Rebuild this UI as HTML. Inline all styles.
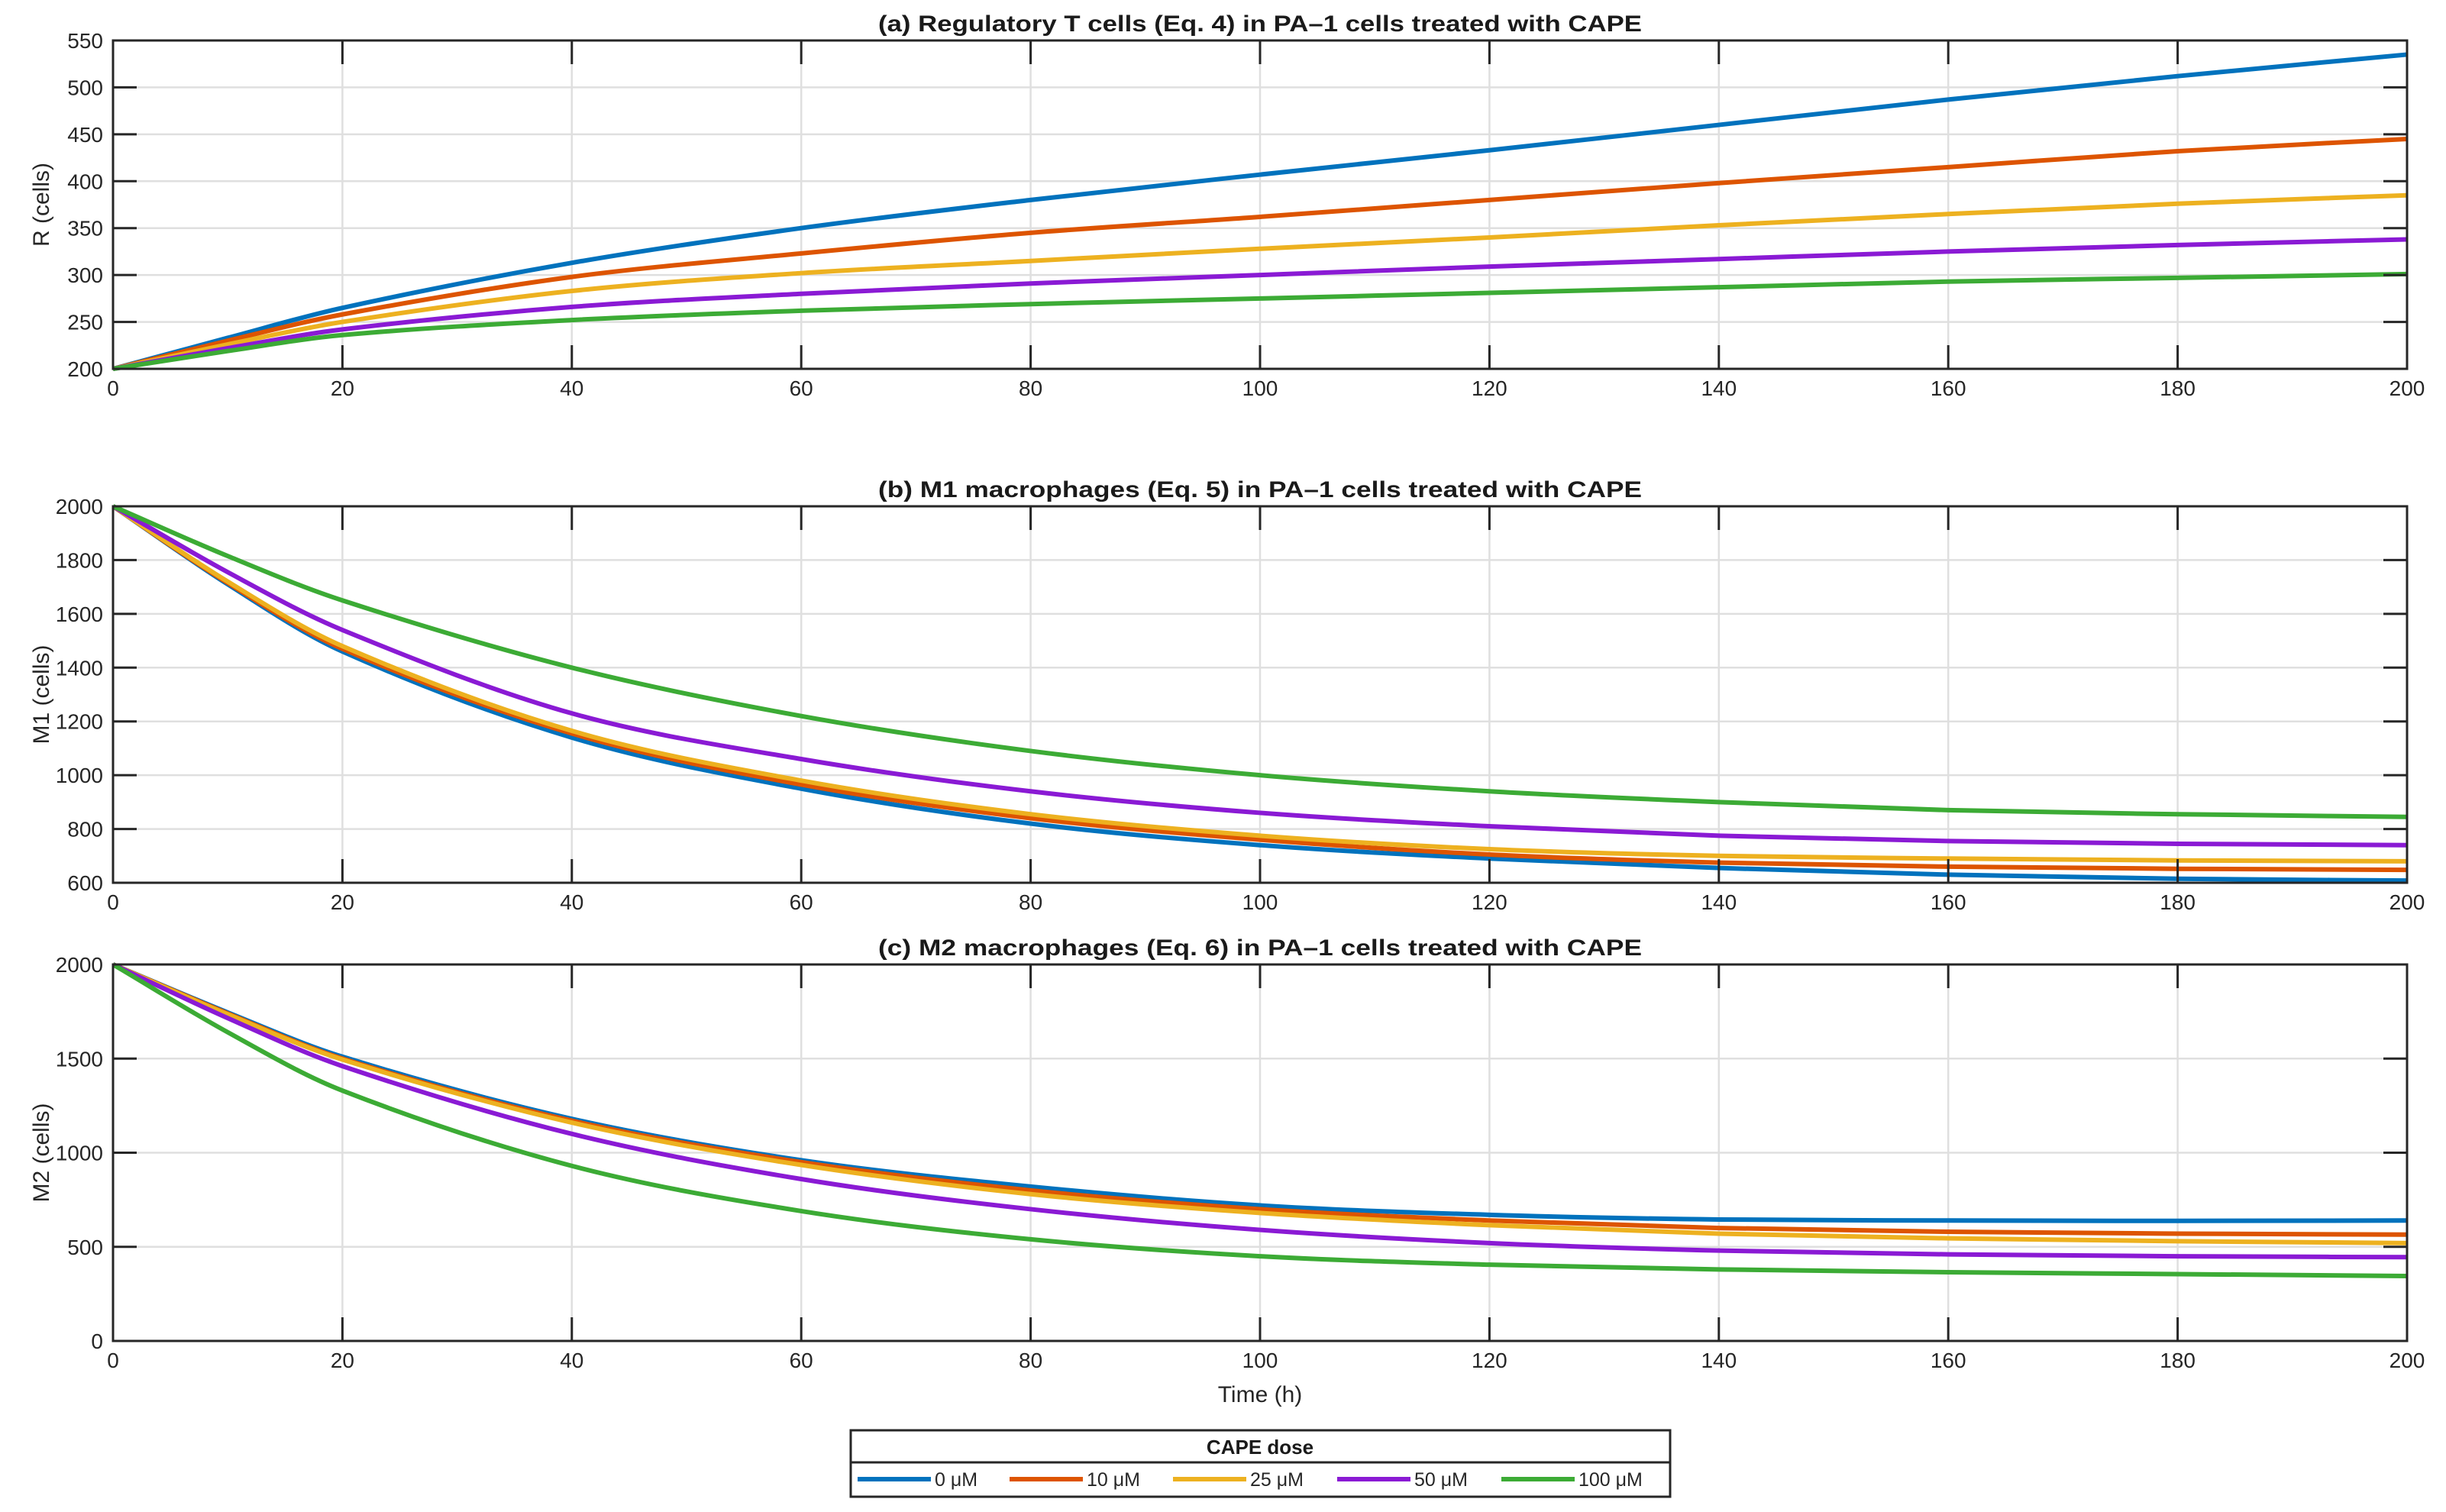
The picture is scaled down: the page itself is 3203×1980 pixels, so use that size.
<!DOCTYPE html>
<html><head><meta charset="utf-8"><style>
body{margin:0;background:#fff;}
svg{display:block;font-family:"Liberation Sans",Arial,sans-serif;}
</style></head><body>
<svg id="chart" width="3203" height="1980" viewBox="0 0 3203 1980" xmlns="http://www.w3.org/2000/svg"></svg>
<script>
const timePoints=[0,10,20,40,60,80,100,120,140,160,180,200];
const seriesNames=["0 μM","10 μM","25 μM","50 μM","100 μM"];
const seriesColors=["#0072BD","#DD5400","#EDB120","#8A1AD4","#3CAB35"];
const rBlue=[200,233,265,313,350,380,407,433,460,487,512,535];
const rOrange=[200,230,258,298,323,345,362,380,398,415,432,445];
const rYellow=[200,226,250,283,302,315,328,340,353,365,376,385];
const rPurple=[200,222,242,266,280,291,300,309,317,325,332,338];
const rGreen=[200,219,236,252,262,269,275,281,287,293,297,301];
const m1Blue=[2000,1710,1460,1140,950,820,740,690,655,630,615,608];
const m1Orange=[2000,1715,1470,1155,965,840,760,705,675,660,652,648];
const m1Yellow=[2000,1720,1480,1165,980,855,775,725,700,690,683,680];
const m1Purple=[2000,1755,1540,1230,1060,940,860,810,775,755,745,740];
const m1Green=[2000,1815,1650,1400,1220,1090,1000,940,900,870,855,845];
const m2Blue=[2000,1745,1510,1180,960,820,720,670,645,640,638,640];
const m2Orange=[2000,1740,1500,1170,950,800,700,640,600,580,570,565];
const m2Yellow=[2000,1735,1495,1160,935,780,680,615,570,545,530,520];
const m2Purple=[2000,1715,1460,1100,860,700,590,520,480,460,450,445];
const m2Green=[2000,1640,1330,930,690,540,450,405,380,365,355,345];
const xTicks=[0,20,40,60,80,100,120,140,160,180,200];
const rTicks=[200,250,300,350,400,450,500,550];
const m1Ticks=[600,800,1000,1200,1400,1600,1800,2000];
const m2Ticks=[0,500,1000,1500,2000];

const svg=document.getElementById('chart');
const NS="http://www.w3.org/2000/svg";
function mk(tag,attrs,parent){const e=document.createElementNS(NS,tag);for(const k in attrs)e.setAttribute(k,attrs[k]);(parent||svg).appendChild(e);return e;}

const L=148,R=3152;
const panels=[
 {key:"a",top:53,bot:483,ymin:200,ymax:550,ticks:rTicks,ylab:"R (cells)",title:"(a) Regulatory T cells (Eq. 4) in PA–1 cells treated with CAPE",data:[rBlue,rOrange,rYellow,rPurple,rGreen]},
 {key:"b",top:663,bot:1156,ymin:600,ymax:2000,ticks:m1Ticks,ylab:"M1 (cells)",title:"(b) M1 macrophages (Eq. 5) in PA–1 cells treated with CAPE",data:[m1Blue,m1Orange,m1Yellow,m1Purple,m1Green]},
 {key:"c",top:1263,bot:1756,ymin:0,ymax:2000,ticks:m2Ticks,ylab:"M2 (cells)",title:"(c) M2 macrophages (Eq. 6) in PA–1 cells treated with CAPE",data:[m2Blue,m2Orange,m2Yellow,m2Purple,m2Green]}
];
panels.forEach(p=>{
 const g=mk('g',{});
 
 
 const xs=v=>L+(v-0)/200*(R-L);
 const ys=v=>p.bot-(v-p.ymin)/(p.ymax-p.ymin)*(p.bot-p.top);
 xTicks.forEach(t=>{const l=mk('line',{x1:xs(t),x2:xs(t),y1:p.top,y2:p.bot,stroke:"#dfdfdf","stroke-width":2.5},g);
  });
 p.ticks.forEach(t=>{const l=mk('line',{x1:L,x2:R,y1:ys(t),y2:ys(t),stroke:"#dfdfdf","stroke-width":2.5},g);
  });
 p.data.forEach((arr,i)=>{
  const pts=arr.map((v,j)=>[xs(timePoints[j]),ys(v)]);
  const n=pts.length;
  const m=pts.map((pt,j)=>{
   const a=pts[Math.max(0,j-1)],b=pts[Math.min(n-1,j+1)];
   return (b[1]-a[1])/(b[0]-a[0]);
  });
  let d="M"+pts[0][0]+","+pts[0][1];
  for(let j=0;j<n-1;j++){
   const p1=pts[j],p2=pts[j+1],dx=(p2[0]-p1[0])/3;
   d+=" C"+(p1[0]+dx)+","+(p1[1]+m[j]*dx)+" "+(p2[0]-dx)+","+(p2[1]-m[j+1]*dx)+" "+p2[0]+","+p2[1];
  }
  const path=mk('path',{d:d,fill:"none",stroke:seriesColors[i],"stroke-width":6},g);
  
  
 });
 const frame=mk('rect',{x:L,y:p.top,width:R-L,height:p.bot-p.top,fill:"none",stroke:"#262626","stroke-width":3},g);
 
 xTicks.forEach(t=>{
  mk('line',{x1:xs(t),x2:xs(t),y1:p.bot,y2:p.bot-31,stroke:"#262626","stroke-width":3},g);
  mk('line',{x1:xs(t),x2:xs(t),y1:p.top,y2:p.top+31,stroke:"#262626","stroke-width":3},g);
  const tx=mk('text',{x:xs(t),y:p.bot+35,"font-size":28,"text-anchor":"middle",fill:"#262626"},g);
  tx.textContent=t;
 });
 p.ticks.forEach(t=>{
  mk('line',{x1:L,x2:L+31,y1:ys(t),y2:ys(t),stroke:"#262626","stroke-width":3},g);
  mk('line',{x1:R,x2:R-31,y1:ys(t),y2:ys(t),stroke:"#262626","stroke-width":3},g);
  const tx=mk('text',{x:135,y:ys(t)+10,"font-size":28,"text-anchor":"end",fill:"#262626"},g);
  tx.textContent=t;
 });
 const yl=mk('text',{x:0,y:0,"font-size":30,"text-anchor":"middle",fill:"#262626",transform:"translate(64,"+((p.top+p.bot)/2)+") rotate(-90)"},g);
 yl.textContent=p.ylab;
 const tt=mk('text',{x:(L+R)/2,y:p.top-12,"font-size":30,"font-weight":"bold","text-anchor":"middle",fill:"#1a1a1a",textLength:1000,lengthAdjust:"spacingAndGlyphs"},g);
 tt.textContent=p.title;
});
const xl=mk('text',{x:(L+R)/2,y:1836,"font-size":30,"text-anchor":"middle",fill:"#262626"});
xl.textContent="Time (h)";

const lg=mk('g',{});

mk('rect',{x:1114,y:1873,width:1073,height:87,fill:"#fff",stroke:"#262626","stroke-width":3},lg);
mk('line',{x1:1114,x2:2187,y1:1915,y2:1915,stroke:"#262626","stroke-width":3},lg);
const lt=mk('text',{x:1650,y:1904,"font-size":26,"font-weight":"bold","text-anchor":"middle",fill:"#1a1a1a"},lg);
lt.textContent="CAPE dose";
const legX=[1123,1322,1536,1751,1966];
seriesNames.forEach((n,i)=>{
 const e=mk('g',{},lg);
 
 
 mk('line',{x1:legX[i],x2:legX[i]+96,y1:1937,y2:1937,stroke:seriesColors[i],"stroke-width":6},e);
 const t=mk('text',{x:legX[i]+101,y:1946,"font-size":25,fill:"#262626"},e);
 t.textContent=n;
});
</script>
</body></html>
